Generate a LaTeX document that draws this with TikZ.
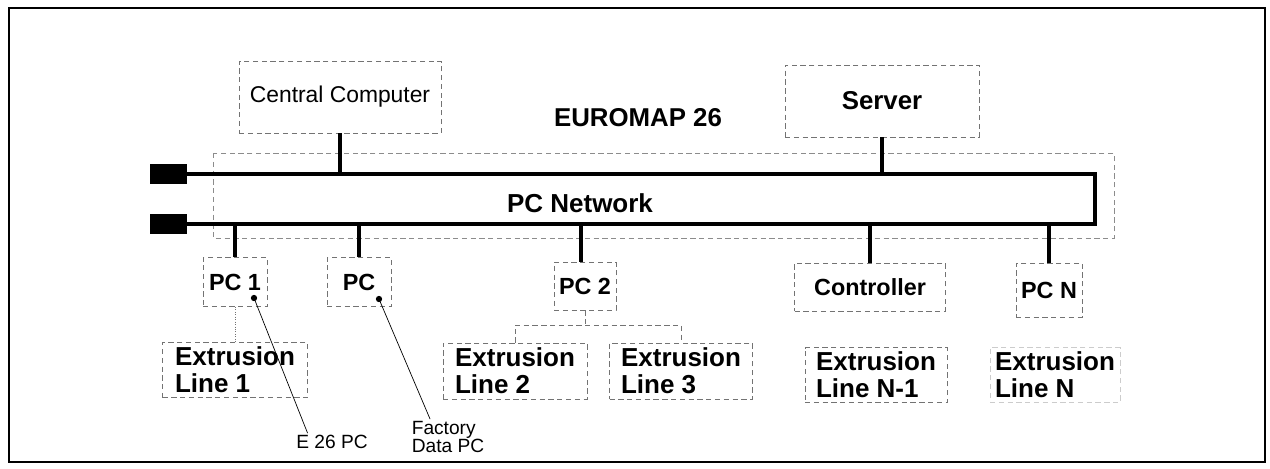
\documentclass[tikz,border=0pt]{standalone}
\usepackage{fontspec}
\setmainfont{Liberation Sans}

\begin{document}
\begin{tikzpicture}[x=0.02cm,y=-0.02cm,
    box/.style={draw=black!55, densely dashed, thin, inner sep=1pt},
    bigtxt/.style={font=\fontsize{14.8}{15.2}\selectfont\bfseries, align=left},
    midtxt/.style={font=\fontsize{13.3}{15}\selectfont\bfseries},
    smalltxt/.style={font=\fontsize{10.9}{10.4}\selectfont, align=left, inner sep=1pt},
    bus/.style={line width=2.7pt},
    drop/.style={line width=2.2pt}]
  \useasboundingbox (0,0) rectangle (1270,468);
  \draw[line width=1.2pt] (9,8) rectangle (1265,462);

  % network
  \draw[black!45, densely dashed, thin] (213,153) rectangle (1114,238);
  \coordinate (bustop) at (0,174);
  \coordinate (busbot) at (0,224);
  \draw[bus] (187,174) -- (1095,174) -- (1095,224) -- (187,224);
  \fill (150,164) rectangle (187,184);
  \fill (150,214) rectangle (187,234);
  \node[bigtxt] (net) at (580,203) {PC Network};
  \node[font=\fontsize{14.7}{16}\selectfont\bfseries] (euromap) at (638,118) {EUROMAP 26};

  % upper nodes
  \node[box, minimum width=4.04cm, minimum height=1.44cm,
        font=\fontsize{13}{15}\selectfont] (cc) at (340,97) {Central Computer};
  \node[box, minimum width=3.88cm, minimum height=1.44cm,
        font=\fontsize{14.7}{16}\selectfont\bfseries] (server) at (882,101) {Server};
  \draw[drop] (cc.south) -- (cc.south |- bustop);
  \draw[drop] (server.south) -- (server.south |- bustop);

  % lower nodes
  \node[box, midtxt, minimum width=1.28cm, minimum height=0.98cm] (pc1) at (235,282) {PC 1};
  \node[box, midtxt, minimum width=1.28cm, minimum height=0.98cm] (pc) at (359,282) {PC};
  \node[box, midtxt, minimum width=1.24cm, minimum height=0.96cm] (pc2) at (585,286) {PC 2};
  \node[box, midtxt, minimum width=3.02cm, minimum height=0.96cm] (ctrl) at (870,287) {Controller};
  \node[box, midtxt, minimum width=1.32cm, minimum height=1.08cm] (pcn) at (1049,290) {PC N};
  \foreach \n in {pc1,pc,ctrl,pcn}
    \draw[drop] (\n.north) -- (\n.north |- busbot);
  \draw[drop] ([xshift=-2.5pt]pc2.north) -- ([xshift=-2.5pt]pc2.north |- busbot);

  % extrusion lines
  \node[box, bigtxt, minimum width=2.9cm, minimum height=1.1cm] (ext1) at (235,370) {Extrusion\\Line 1};
  \node[box, bigtxt, minimum width=2.88cm, minimum height=1.12cm] (ext2) at (515,371) {Extrusion\\Line 2};
  \node[box, bigtxt, minimum width=2.86cm, minimum height=1.12cm] (ext3) at (681,371) {Extrusion\\Line 3};
  \node[box, bigtxt, minimum width=2.84cm, minimum height=1.1cm] (extn1) at (876,375) {Extrusion\\Line N-1};
  \node[box, draw=black!20, bigtxt, minimum width=2.6cm, minimum height=1.1cm] (extn) at (1055,375) {Extrusion\\Line N};

  \draw[black!55, densely dotted] (pc1.south) -- (ext1.north);
  \coordinate (fork) at (585,325);
  \draw[black!55, densely dashed, thin] (pc2.south) -- (fork);
  \draw[black!55, densely dashed, thin] (ext2.north) |- (fork) -| (ext3.north);

  % callouts
  \coordinate (dot1) at (254,298);
  \coordinate (dot2) at (379,299);
  \fill (dot1) circle (1.8pt);
  \fill (dot2) circle (1.8pt);
  \node[smalltxt] (e26) at (332,442) {E 26 PC};
  \node[smalltxt] (fdpc) at (448,437) {Factory\\Data PC};
  \draw[thin] (dot1) -- (e26.160);
  \draw[thin] (dot2) -- (fdpc.135);
\end{tikzpicture}
\end{document}
